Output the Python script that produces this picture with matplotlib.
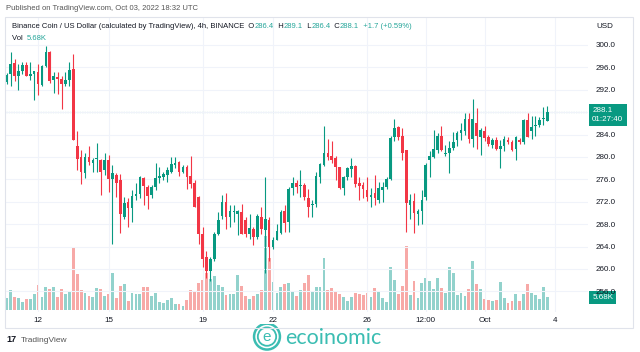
import numpy as np
import pandas as pd
import matplotlib
matplotlib.use("Agg")
import matplotlib.pyplot as plt
import matplotlib.dates as mdates
from matplotlib.patches import Circle, Rectangle
from matplotlib.transforms import blended_transform_factory
from matplotlib.offsetbox import TextArea, HPacker, AnchoredOffsetbox

plt.rcParams["font.family"] = ["Liberation Sans", "DejaVu Sans"]

# BNB/USD, 4h candles starting 2022-09-10 16:00 UTC
start = "2022-09-10 16:00"
opens = [293.4, 294.8, 296.8, 294.4, 295.3, 296.4, 294.5, 294.9, 295.1, 292.9,
         296.2, 298.7, 293.8, 294.2, 294.0, 293.0, 293.8, 295.8, 281.9, 280.0,
         277.2, 280.0, 278.9, 279.6, 279.5, 277.7, 279.4, 276.0, 276.8, 275.9,
         269.3, 271.9, 270.9, 273.1, 273.4, 276.2, 274.7, 273.2, 274.6, 276.2,
         276.5, 276.8, 277.3, 278.6, 279.1, 277.3, 278.2, 276.6, 275.3, 272.9,
         266.3, 262.1, 259.6, 261.8, 266.3, 269.4, 272.0, 269.3, 270.2, 269.9,
         270.2, 268.7, 266.2, 267.2, 265.7, 269.3, 267.0, 268.8, 263.9, 265.2,
         266.4, 270.4, 268.4, 274.4, 275.3, 274.8, 275.0, 272.6, 271.4, 271.6,
         276.5, 278.6, 280.8, 280.2, 279.8, 278.2, 274.4, 276.4, 277.9, 278.4,
         275.3, 275.0, 274.1, 272.9, 273.5, 272.4, 274.1, 274.7, 276.0, 283.6,
         285.4, 283.7, 281.2, 271.4, 272.1, 269.9, 270.4, 272.9, 279.4, 280.0,
         281.2, 283.7, 280.6, 280.7, 281.6, 283.0, 284.3, 284.6, 286.8, 283.2,
         286.0, 283.6, 284.6, 283.5, 282.2, 283.1, 281.4, 281.9, 283.1, 282.7,
         281.4, 283.0, 282.6, 286.6, 284.6, 285.5, 285.8, 286.8, 286.4]
highs = [295.0, 298.8, 297.5, 296.6, 296.9, 296.9, 296.9, 295.4, 296.6, 296.4,
         299.9, 299.0, 295.1, 295.1, 294.4, 295.1, 296.9, 298.4, 284.6, 281.2,
         280.7, 281.9, 279.8, 282.5, 279.6, 280.7, 280.4, 278.6, 277.1, 277.0,
         272.9, 272.6, 274.1, 275.3, 276.6, 276.5, 275.0, 275.0, 278.9, 278.3,
         277.4, 278.3, 280.0, 280.0, 279.2, 278.6, 278.6, 280.1, 275.9, 273.0,
         267.5, 263.2, 262.1, 266.6, 270.2, 273.2, 273.5, 271.4, 271.4, 270.5,
         271.6, 269.3, 269.9, 267.5, 269.9, 271.1, 276.5, 269.3, 265.7, 268.1,
         270.5, 271.4, 274.7, 276.5, 275.9, 277.7, 275.3, 274.2, 272.4, 277.4,
         278.9, 285.6, 283.2, 282.8, 280.1, 278.3, 276.6, 278.3, 279.8, 278.6,
         276.5, 275.6, 276.5, 274.4, 276.8, 275.6, 275.6, 276.4, 283.7, 286.7,
         285.6, 285.2, 281.3, 273.4, 273.5, 270.8, 274.1, 278.9, 281.0, 284.9,
         284.3, 285.6, 282.2, 282.8, 284.4, 284.6, 286.1, 287.8, 287.8, 290.4,
         288.8, 285.2, 285.5, 284.0, 283.4, 283.5, 283.1, 283.8, 283.5, 283.1,
         283.7, 283.4, 286.8, 287.8, 287.4, 287.4, 287.1, 289.0, 289.1]
lows = [293.1, 292.7, 293.6, 292.0, 294.8, 294.4, 293.8, 290.2, 291.1, 292.6,
        296.0, 293.3, 291.5, 291.2, 288.5, 292.7, 292.6, 283.0, 277.7, 275.2,
        276.2, 278.6, 277.4, 277.3, 273.2, 276.8, 273.8, 264.4, 272.9, 266.4,
        269.0, 267.5, 268.4, 272.3, 272.6, 271.4, 270.8, 272.6, 274.1, 275.3,
        275.9, 275.6, 277.1, 278.0, 276.6, 277.1, 274.2, 274.4, 271.0, 264.5,
        260.3, 258.4, 257.9, 261.5, 266.0, 269.0, 267.2, 267.5, 268.4, 266.0,
        266.2, 265.7, 265.4, 264.2, 265.4, 266.3, 259.3, 261.5, 263.6, 265.1,
        266.3, 266.6, 266.6, 273.2, 273.5, 272.9, 272.4, 269.2, 269.2, 271.1,
        275.4, 278.4, 279.5, 278.9, 275.9, 274.3, 273.2, 275.9, 276.5, 274.7,
        272.3, 272.6, 272.2, 271.1, 271.4, 271.7, 272.0, 274.2, 275.9, 282.8,
        283.1, 279.5, 266.6, 269.0, 266.4, 267.8, 268.0, 272.3, 276.5, 279.8,
        280.8, 281.0, 280.1, 277.2, 281.3, 281.9, 283.1, 284.0, 282.5, 281.8,
        281.4, 280.4, 282.8, 282.0, 281.6, 281.2, 278.0, 281.0, 282.3, 281.0,
        279.4, 282.4, 282.4, 283.6, 283.2, 283.7, 285.4, 285.8, 286.4]
closes = [294.6, 296.6, 294.5, 295.4, 296.4, 294.5, 294.9, 295.4, 293.0, 296.2,
          298.7, 293.6, 294.5, 294.0, 293.0, 293.8, 295.5, 283.1, 279.6, 277.3,
          280.0, 279.1, 279.5, 279.8, 277.4, 279.5, 276.0, 277.1, 275.4, 269.8,
          271.7, 270.9, 273.1, 273.4, 276.4, 274.9, 273.0, 274.7, 276.2, 276.6,
          277.0, 277.6, 278.8, 279.0, 277.4, 278.2, 276.5, 275.2, 271.1, 266.3,
          261.8, 259.6, 261.8, 266.2, 268.8, 272.0, 269.3, 270.4, 270.4, 270.4,
          266.3, 266.3, 267.3, 265.8, 269.4, 267.2, 269.0, 264.0, 265.2, 266.8,
          270.2, 268.2, 274.2, 275.3, 274.6, 274.9, 272.8, 271.1, 271.6, 276.6,
          278.7, 280.7, 280.0, 279.5, 278.2, 274.4, 276.4, 278.0, 278.4, 275.2,
          274.8, 274.2, 272.9, 273.3, 272.6, 274.4, 274.7, 276.0, 283.4, 285.2,
          283.6, 280.7, 271.7, 272.3, 270.0, 270.4, 272.4, 278.6, 280.1, 281.4,
          283.7, 281.2, 280.8, 281.6, 282.6, 284.2, 284.8, 286.8, 283.2, 286.8,
          283.8, 284.8, 283.4, 282.4, 283.0, 281.4, 281.9, 283.3, 282.6, 281.3,
          283.6, 282.6, 286.6, 283.6, 285.4, 285.8, 286.6, 287.0, 288.1]
volumes = [5.2, 9.0, 5.7, 5.2, 3.7, 4.8, 4.8, 7.2, 11.2, 6.0,
           10.4, 9.6, 10.4, 6.0, 9.6, 7.2, 8.2, 27.9, 16.1, 9.0,
           7.8, 6.3, 5.7, 9.7, 9.3, 6.3, 7.2, 16.7, 5.2, 10.7,
           11.5, 4.0, 7.8, 7.2, 7.2, 10.1, 10.1, 6.3, 7.5, 3.4,
           3.3, 4.5, 5.2, 2.7, 2.7, 1.9, 4.5, 9.0, 8.1, 11.9,
           13.4, 16.4, 13.7, 15.2, 11.2, 10.4, 6.7, 7.2, 7.2, 15.7,
           10.7, 6.3, 4.8, 6.3, 7.2, 9.0, 33.0, 23.1, 12.5, 7.8,
           10.4, 11.6, 12.2, 8.1, 6.3, 9.0, 12.2, 15.7, 8.7, 10.4,
           10.4, 23.1, 9.0, 9.7, 8.7, 7.2, 6.0, 4.2, 6.0, 7.5,
           7.2, 6.6, 7.8, 5.7, 9.7, 8.7, 5.2, 3.7, 19.4, 13.4,
           7.2, 10.7, 28.7, 6.7, 12.8, 5.2, 11.9, 14.2, 13.1, 9.3,
           14.2, 9.7, 7.5, 19.4, 16.4, 6.7, 7.5, 6.3, 9.3, 22.1,
           11.6, 9.3, 4.8, 4.5, 4.2, 4.5, 12.4, 5.2, 3.0, 3.9,
           7.0, 3.9, 7.0, 11.6, 7.5, 6.6, 5.1, 10.4, 5.68]

tick_dates = ["2022-09-12 00:00", "2022-09-15 00:00", "2022-09-19 00:00", "2022-09-22 00:00",
              "2022-09-26 00:00", "2022-09-28 12:00", "2022-10-01 00:00", "2022-10-04 00:00"]
tick_labels = ["12", "15", "19", "22", "26", "12:00", "Oct", "4"]
price_ticks = np.arange(256, 301, 4)
last_price = 288.1
countdown = "01:27:40"

UP, DOWN = "#089981", "#f23645"
UP_V, DOWN_V = "#92d2cc", "#f7a9a7"
TEXT = "#131722"
GRID = "#f0f3fa"

o, h, l, c = (np.array(a) for a in (opens, highs, lows, closes))
vol = np.array(volumes)
t = mdates.date2num(pd.date_range(start, periods=len(o), freq="4h"))
up = c >= o
step = 1 / 6

W, H = 640, 352
fig = plt.figure(figsize=(W / 100, H / 100), dpi=100)
fig.patch.set_facecolor("white")

rect = [6 / W, 1 - 312 / H, 582 / W, 295 / H]
vax = fig.add_axes(rect)
ax = fig.add_axes(rect, sharex=vax)
ax.patch.set_alpha(0)

# volume
vax.bar(t, vol, width=step * 0.72, color=np.where(up, UP_V, DOWN_V), linewidth=0)
vax.set_ylim(-0.9, 131.4)
vax.set_yticks([])

# candles
col = np.where(up, UP, DOWN)
ax.vlines(t, l, h, colors=col, linewidth=0.8, zorder=2)
body_lo = np.minimum(o, c)
body_h = np.maximum(np.abs(c - o), 0.18)
ax.bar(t, body_h, bottom=body_lo, width=step * 0.68, color=col, linewidth=0, zorder=3)
ax.set_ylim(252.32, 305.0)
ax.set_xlim(t[0] - 0.7 / 23.5, t[0] + 581.3 / 23.5)

ax.axhline(last_price, color="#26a69a", linewidth=0.8, linestyle=(0, (1, 1.2)), zorder=1)

# grids and ticks (the 288.0 label sits under the last-price tag)
ax.yaxis.tick_right()
ax.set_yticks(price_ticks)
ax.set_yticklabels(["" if abs(p - last_price) < 1 else f"{p:.1f}" for p in price_ticks])
ax.tick_params(axis="y", length=0, pad=5.5, labelsize=5.8, labelcolor=TEXT)
ax.grid(axis="y", color=GRID, linewidth=0.8)
ax.tick_params(axis="x", length=0, labelbottom=False)
vax.set_xticks(mdates.date2num(pd.to_datetime(tick_dates)))
vax.set_xticklabels(tick_labels)
vax.tick_params(axis="x", length=0, pad=3.5, labelsize=5.8, labelcolor=TEXT)
vax.tick_params(axis="y", length=0, labelleft=False)
vax.grid(axis="x", color=GRID, linewidth=0.8)
for a in (ax, vax):
    for s in a.spines.values():
        s.set_visible(False)

# last price tag and volume tag
bt = blended_transform_factory(ax.transAxes, ax.transData)
ax.annotate(f"{last_price:.1f}\n{countdown}", xy=(1, last_price), xycoords=bt,
            xytext=(3, 3), textcoords="offset points", ha="left", va="top",
            fontsize=5.8, color="white", linespacing=1.25, annotation_clip=False,
            bbox=dict(boxstyle="square,pad=0.4", fc=UP, ec="none"), zorder=10)
vbt = blended_transform_factory(vax.transAxes, vax.transData)
vax.annotate(f"{vol[-1]:.2f}K", xy=(1, vol[-1]), xycoords=vbt,
             xytext=(3, 0), textcoords="offset points", ha="left", va="center",
             fontsize=5.8, color="white", annotation_clip=False,
             bbox=dict(boxstyle="square,pad=0.35", fc=UP, ec="none"), zorder=10)

# frame
fig.add_artist(Rectangle((5 / W, 1 - 328 / H), 628 / W, 311 / H, transform=fig.transFigure,
                         fill=False, ec="#e0e3eb", lw=0.8))

fig.text(6 / W, 1 - 9 / H, "Published on TradingView.com, Oct 03, 2022 18:32 UTC",
         fontsize=5.5, color="#555555", va="center")
fig.text(596 / W, 1 - 26 / H, "USD", fontsize=5.8, color=TEXT, va="center")


def header(pieces, y, size=5.5):
    boxes = [TextArea(s, textprops=dict(color=col_, fontsize=size)) for s, col_ in pieces]
    pack = HPacker(children=boxes, align="baseline", pad=0, sep=0)
    ab = AnchoredOffsetbox(loc="center left", child=pack, pad=0, borderpad=0, frameon=False,
                           bbox_to_anchor=(12 / W, 1 - y / H), bbox_transform=fig.transFigure)
    fig.add_artist(ab)


teal = "#26a69a"
header([("Binance Coin / US Dollar (calculated by TradingView), 4h, BINANCE", TEXT),
        ("  O", TEXT), (f"{o[-1]:.1f}", teal), ("  H", TEXT), (f"{h[-1]:.1f}", teal),
        ("  L", TEXT), (f"{l[-1]:.1f}", teal), ("  C", TEXT), (f"{c[-1]:.1f}", teal),
        (f"  {c[-1] - o[-1]:+.1f} ({(c[-1] - o[-1]) / o[-1] * 100:+.2f}%)", teal)], 27)
header([("Vol  ", TEXT), (f"{vol[-1]:.2f}K", teal)], 39)

# bottom branding
fig.text(6 / W, 1 - 340 / H, "17", fontsize=6.5, fontweight="bold", color=TEXT, va="center")
fig.text(21 / W, 1 - 340 / H, "TradingView", fontsize=6, color="#555555", va="center")

lax = fig.add_axes([251 / W, 0, 32 / W, 28 / H])
lax.set_xlim(-1.15, 1.15)
lax.set_ylim(-1.0, 1.0)
lax.set_aspect("equal")
lax.axis("off")
eco = "#3bbdb2"
lax.add_patch(Circle((0, 0.1), 0.93, fill=False, ec=eco, lw=1.8))
lax.add_patch(Circle((0, 0.1), 0.66, fill=False, ec=eco, lw=1.3))
lax.text(0, 0.07, "e", ha="center", va="center", fontsize=11, color=eco)
fig.text(285 / W, 1 - 338 / H, "ecoinomic", fontsize=15.5, color=eco, va="center",
         family=["Lato", "DejaVu Sans"])

fig.savefig("out.png", dpi=100)
